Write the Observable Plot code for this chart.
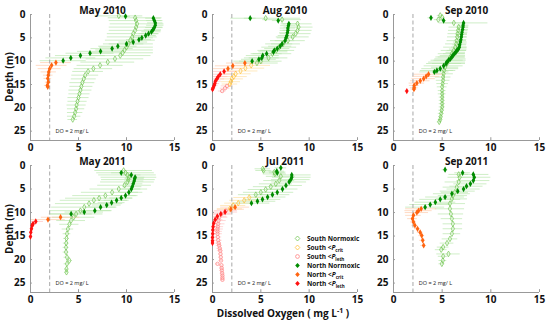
<!DOCTYPE html>
<html>
<head>
<meta charset="utf-8">
<script src="https://cdn.jsdelivr.net/npm/d3@7"></script>
<script src="https://cdn.jsdelivr.net/npm/@observablehq/plot@0.6"></script>
<style>
  body { margin: 0; background: white; }
  #wrap { position: relative; width: 550px; height: 322px; background: white; overflow: hidden; font-family: "Open Sans", sans-serif; }
  .abs { position: absolute; }
  .ylab { font-weight: bold; font-size: 10px; color: #111; transform: translate(-50%, -50%) rotate(-90deg); white-space: nowrap; }
  .xlab { font-weight: bold; font-size: 10px; color: #111; transform: translate(-50%, -50%); white-space: nowrap; }
  .legend { font-size: 6.5px; font-weight: bold; color: #111; }
  .legend .row { position: absolute; left: 0; height: 9px; line-height: 9px; white-space: nowrap; }
  .legend svg { position: absolute; left: 0; top: 1px; }
  .legend span { position: absolute; left: 13px; top: 0; }
  .legend sub { font-size: 4.5px; line-height: 0; vertical-align: -1.5px; }
</style>
</head>
<body>
<div id="wrap"></div>
<script>
// ---- ticks, labels ----
const xTicks = [0, 5, 10, 15];
const yTicks = [0, 5, 10, 15, 20, 25];
const panelTitles = ["May 2010", "Aug 2010", "Sep 2010", "May 2011", "Jul 2011", "Sep 2011"];
const seriesKeys = ["SN", "SC", "SL", "NN", "NC", "NL"];
const seriesLabels = ["South Normoxic", "South <P_crit", "South <P_leth", "North Normoxic", "North <P_crit", "North <P_leth"];
const doThreshold = 2;
const doLabel = "DO = 2 mg/ L";

// ---- data: [depth (m), DO (mg/L), sd] ----
// May 2010
const may2010_SN = [[0.3,9.2,2.5],[0.7,10.9,2.8],[1.3,11.0,2.8],[2.0,11.1,2.8],[2.7,11.0,2.8],[3.4,10.9,2.7],[4.1,10.7,2.7],[4.8,10.6,2.6],[5.5,10.4,2.6],[6.3,10.2,2.6],[7.0,10.0,2.8],[7.6,9.8,3.0],[8.2,9.6,3.2],[8.8,9.35,3.2],[9.5,8.8,3.0],[10.2,8.05,2.8],[10.9,7.25,2.4],[11.6,6.55,2.0],[12.2,6.0,1.6],[13.0,5.7,1.4],[13.8,5.55,1.3],[14.6,5.4,1.3],[15.4,5.3,1.2],[16.2,5.2,1.2],[17.0,5.1,1.1],[17.8,5.0,1.1],[18.6,4.9,1.0],[19.4,4.8,1.0],[20.2,4.75,0.9],[21.0,4.65,0.8],[21.8,4.55,0.7],[22.5,4.4,0.5]];
const may2010_SC = [];
const may2010_SL = [];
const may2010_NN = [[0.4,9.9,0.5],[0.8,12.8,0.8],[1.3,12.9,0.8],[1.8,13.0,0.8],[2.3,13.0,0.9],[2.8,12.9,0.9],[3.3,12.75,0.9],[3.7,12.6,1.0],[4.1,12.3,1.0],[4.5,12.0,1.1],[5.0,11.6,1.2],[5.4,11.3,1.3],[5.9,10.7,1.5],[6.3,10.0,1.8],[6.8,9.1,2.0],[7.3,8.5,2.2],[7.9,7.3,2.4],[8.3,6.2,2.5],[8.8,5.2,2.6],[9.3,4.2,2.6],[9.9,3.4,2.4]];
const may2010_NC = [[10.3,2.65,1.6],[10.9,2.2,1.6],[11.6,2.0,1.2],[12.3,1.9,0.8],[13.0,1.85,0.5],[13.7,1.8,0.4],[14.5,1.85,0.3],[15.2,1.75,0.3],[15.5,1.8,0.2]];
const may2010_NL = [];
// Aug 2010
const aug2010_SN = [[0.8,5.5,3.6],[1.1,7.2,2.0],[2.0,8.8,1.5],[2.7,8.9,1.5],[3.4,8.8,1.5],[4.1,8.6,1.6],[4.8,8.3,1.7],[5.6,7.8,1.8],[6.3,7.3,1.8],[7.0,6.9,1.8],[7.7,6.6,1.9],[8.4,6.2,2.0],[9.3,5.8,2.0],[10.0,5.0,2.2],[10.4,4.6,2.2]];
const aug2010_SC = [[10.9,4.0,2.0],[11.5,3.4,2.0],[12.1,2.9,1.8],[12.7,2.4,1.6],[13.3,2.2,1.4],[13.8,2.0,1.2],[14.4,1.9,1.0],[14.9,1.8,0.8]];
const aug2010_SL = [[15.3,1.5,0.6],[15.8,1.3,0.5],[16.4,1.0,0.4]];
const aug2010_NN = [[0.8,3.9,0.6],[1.3,6.8,0.6],[2.0,7.9,0.8],[2.4,7.85,0.8],[2.9,7.8,0.8],[3.4,7.8,0.8],[3.9,7.75,0.8],[4.5,7.7,0.9],[5.0,7.6,0.9],[5.6,7.5,1.0],[6.3,7.2,1.1],[6.8,7.0,1.2],[7.3,6.7,1.3],[7.7,6.4,1.4],[8.0,6.3,1.5],[8.4,5.6,1.6],[8.8,5.2,1.7],[9.3,5.1,1.8],[9.6,4.8,1.8],[10.0,4.1,1.9]];
const aug2010_NC = [[10.4,3.35,1.9],[11.0,2.1,1.8],[11.6,1.6,1.6]];
const aug2010_NL = [[12.2,1.2,1.4],[12.8,0.8,1.2],[13.3,0.6,1.0],[13.8,0.45,0.8],[14.3,0.3,0.6],[14.8,0.24,0.5],[15.2,0.17,0.4],[15.7,0.07,0.3],[16.0,0.0,0.2]];
// Sep 2010
const sep2010_SN = [[0.2,4.8,0.3],[0.6,5.0,0.3],[1.1,4.6,0.4],[1.8,6.2,1.0],[2.7,6.7,1.0],[3.4,6.65,1.0],[4.1,6.6,1.0],[4.8,6.55,1.0],[5.6,6.5,1.0],[6.3,6.45,1.1],[7.0,6.35,1.2],[7.7,6.2,1.3],[8.4,6.0,1.4],[9.1,5.85,1.5],[9.8,5.66,1.5],[10.5,5.5,1.5],[11.3,5.3,1.4],[12.0,5.2,1.2],[12.7,5.15,1.0],[13.4,5.1,0.8],[14.1,5.1,0.7],[14.8,5.05,0.6],[15.5,5.0,0.5],[16.3,5.0,0.4],[17.0,5.0,0.4],[17.7,5.0,0.3],[18.4,5.0,0.3],[19.1,5.0,0.3],[19.8,5.0,0.3],[20.5,4.95,0.3],[21.2,4.9,0.3],[21.9,4.85,0.2],[22.5,4.8,0.2],[23.0,4.7,0.2]];
const sep2010_SC = [];
const sep2010_SL = [];
const sep2010_NN = [[0.7,3.85,0.3],[1.3,5.15,0.3],[1.8,7.2,2.5],[2.3,7.15,0.6],[2.7,7.14,0.6],[3.2,7.1,0.6],[3.8,7.04,0.6],[4.3,7.0,0.6],[4.8,6.97,0.6],[5.4,6.92,0.6],[5.9,6.87,0.7],[6.5,6.8,0.7],[7.0,6.76,0.8],[7.4,6.65,0.9],[7.7,6.52,1.0],[8.1,6.4,1.0],[8.4,6.25,1.1],[8.8,6.1,1.3],[9.1,6.0,1.4],[9.5,5.85,1.6],[9.8,5.66,1.8],[10.2,5.5,1.9],[10.5,5.4,2.0],[11.0,5.15,2.0],[11.6,4.8,1.9],[12.0,4.46,1.7],[12.3,4.2,1.5]];
const sep2010_NC = [[12.8,3.6,1.5],[13.25,3.36,1.4],[13.75,3.1,1.2],[14.2,2.75,1.0],[14.7,2.4,0.8],[15.2,2.13,0.5],[15.7,2.13,0.4],[16.0,2.1,0.3]];
const sep2010_NL = [[16.4,1.37,0.2]];
// May 2011
const may2011_SN = [[1.06,9.7,3.0],[1.55,9.9,3.0],[2.0,10.1,3.0],[2.5,10.25,2.9],[3.0,10.2,2.8],[3.5,10.1,2.8],[4.2,9.8,2.8],[5.0,9.2,3.0],[5.7,8.5,3.2],[6.4,7.8,3.4],[6.95,7.15,3.5],[7.4,6.6,3.5],[8.1,6.1,3.5],[8.85,5.6,3.4],[9.6,5.2,3.2],[10.3,4.75,2.8],[11.0,4.5,2.2],[11.7,4.23,1.5],[12.5,4.05,1.0],[13.5,3.9,0.6],[14.5,3.8,0.4],[15.5,3.75,0.3],[16.5,3.72,0.3],[17.4,3.7,0.3],[18.4,3.7,0.3],[19.5,3.8,0.3],[20.2,4.05,0.3],[20.9,3.8,0.3],[22.0,3.75,0.2],[22.7,3.75,0.2]];
const may2011_SC = [];
const may2011_SL = [];
const may2011_NN = [[1.55,9.45,1.0],[2.0,10.5,1.0],[2.5,10.9,1.0],[2.8,10.85,1.0],[3.3,10.8,1.0],[3.9,10.7,1.0],[4.5,10.6,1.0],[5.0,10.5,1.0],[5.7,10.25,1.0],[6.4,9.9,1.1],[6.9,9.45,1.2],[7.4,8.97,1.3],[7.9,8.45,1.4],[8.4,7.94,1.5],[8.85,7.3,1.6],[9.6,6.7,1.8],[9.9,5.6,2.0],[10.3,4.23,2.2]];
const may2011_NC = [[11.0,3.13,2.0],[11.5,1.82,1.8]];
const may2011_NL = [[11.9,0.55,0.8],[12.4,0.27,0.4],[12.75,0.17,0.3],[13.45,0.1,0.2],[14.2,0.03,0.1],[15.1,0.0,0.1]];
// Jul 2011
const jul2011_SN = [[0.7,5.2,0.8],[1.06,5.28,0.8],[1.4,6.4,1.2],[1.8,6.45,1.2],[2.3,7.07,1.5],[3.2,6.9,1.6],[3.9,6.55,1.7],[4.5,6.03,1.8],[5.1,5.5,1.8],[5.7,5.0,1.8],[6.2,4.48,1.8]];
const jul2011_SC = [[6.8,3.8,1.6],[7.4,3.28,1.5],[8.0,2.66,1.4],[8.5,2.14,1.3],[9.2,1.8,1.3]];
const jul2011_SL = [[9.6,1.38,1.2],[10.3,0.93,1.1],[11.0,0.69,0.9],[11.7,0.62,0.8],[12.4,0.59,0.7],[13.0,0.55,0.6],[13.5,0.52,0.6],[14.0,0.52,0.5],[14.5,0.52,0.5],[15.2,0.55,0.4],[15.9,0.59,0.4],[16.5,0.64,0.3],[17.0,0.69,0.3],[17.6,0.75,0.3],[18.1,0.8,0.3],[18.8,0.83,0.2],[19.5,0.86,0.2],[20.2,0.88,0.2],[20.9,0.52,0.2],[21.2,0.93,0.2],[21.8,0.95,0.2],[22.3,0.97,0.2],[22.9,1.0,0.2],[23.4,1.03,0.2],[23.9,1.03,0.2],[24.3,1.03,0.2]];
const jul2011_NN = [[0.5,7.07,0.6],[1.2,6.65,0.8],[1.55,6.7,0.8],[2.0,8.2,2.0],[2.5,8.2,2.0],[3.0,8.1,2.0],[3.5,7.93,1.8],[4.25,7.6,1.7],[5.0,7.24,1.6],[5.7,6.7,1.7],[6.2,6.2,1.8],[6.7,5.7,1.9],[7.2,5.17,1.9],[7.6,4.65,1.9],[8.0,4.03,1.9]];
const jul2011_NC = [[8.85,2.34,1.5],[9.3,1.9,1.4]];
const jul2011_NL = [[9.9,1.3,1.3],[10.3,0.86,1.1],[10.8,0.5,1.0],[11.5,0.28,0.8],[12.3,0.12,0.6],[13.0,0.06,0.5],[13.7,0.03,0.4],[14.5,0.02,0.3],[15.3,0.0,0.2],[16.0,0.0,0.1],[16.5,0.0,0.1]];
// Sep 2011
const sep2011_SN = [[1.9,6.7,1.0],[2.5,6.8,1.2],[3.5,6.7,1.4],[4.6,6.5,1.4],[5.7,6.3,1.4],[6.4,6.1,1.5],[7.1,6.0,1.6],[8.1,5.8,1.6],[9.2,5.8,1.5],[10.3,5.9,1.3],[11.3,6.0,1.1],[12.4,6.1,1.0],[13.45,6.1,1.0],[14.5,6.0,0.9],[15.6,5.8,0.8],[16.5,5.5,0.7],[17.35,5.1,0.6],[17.9,4.9,0.6],[18.8,5.65,1.2],[19.3,5.1,0.5],[20.2,5.07,0.4],[20.9,4.97,0.3]];
const sep2011_SC = [];
const sep2011_SL = [];
const sep2011_NN = [[0.9,5.3,0.3],[1.55,7.1,0.8],[1.9,8.2,1.6],[2.5,8.3,1.7],[3.2,8.2,1.7],[3.9,7.9,1.7],[4.4,7.5,1.7],[5.0,7.2,1.7],[5.45,6.6,1.8],[6.0,6.0,1.9],[6.7,5.3,2.0],[7.2,4.8,2.1],[7.8,4.3,2.1],[8.3,3.77,2.1],[8.85,3.25,2.0]];
const sep2011_NC = [[9.2,2.84,1.6],[9.6,2.57,1.4],[10.0,2.4,1.2],[10.6,2.05,0.8],[11.3,1.95,0.5],[12.0,2.05,0.3],[12.75,2.2,0.3],[13.45,2.47,0.3],[14.2,2.74,0.3],[14.9,2.9,0.3],[15.9,3.0,0.3],[17.0,3.1,0.3]];
const sep2011_NL = [];

const panelData = [
  {SN: may2010_SN, SC: may2010_SC, SL: may2010_SL, NN: may2010_NN, NC: may2010_NC, NL: may2010_NL},
  {SN: aug2010_SN, SC: aug2010_SC, SL: aug2010_SL, NN: aug2010_NN, NC: aug2010_NC, NL: aug2010_NL},
  {SN: sep2010_SN, SC: sep2010_SC, SL: sep2010_SL, NN: sep2010_NN, NC: sep2010_NC, NL: sep2010_NL},
  {SN: may2011_SN, SC: may2011_SC, SL: may2011_SL, NN: may2011_NN, NC: may2011_NC, NL: may2011_NL},
  {SN: jul2011_SN, SC: jul2011_SC, SL: jul2011_SL, NN: jul2011_NN, NC: jul2011_NC, NL: jul2011_NL},
  {SN: sep2011_SN, SC: sep2011_SC, SL: sep2011_SL, NN: sep2011_NN, NC: sep2011_NC, NL: sep2011_NL}
];

// ---- styling ----
const seriesStyle = {
  SN: {color: "#78c85a", err: "#b8e5ab", filled: false, symbol: "diamond"},
  SC: {color: "#ffc23d", err: "#ffdea0", filled: false, symbol: "diamond"},
  SL: {color: "#ff8585", err: "#ffc2c2", filled: false, symbol: "circle"},
  NN: {color: "#008c00", err: "#b8e5ab", filled: true, symbol: "diamond"},
  NC: {color: "#ff6410", err: "#ffcaa8", filled: true, symbol: "diamond"},
  NL: {color: "#ff1010", err: "#ffc2c2", filled: true, symbol: "diamond"}
};
const colX0 = [29.5, 212, 393];
const colSpan = [144, 145, 146];
const rowY0 = [14, 165];
const rowSpan = [126, 127];
const mL = 25, mR = 10, mT = 14, mB = 22;
const font = "'Open Sans', 'DejaVu Sans', sans-serif";

const wrap = document.getElementById("wrap");

panelData.forEach((pd, i) => {
  const col = i % 3, row = Math.floor(i / 3);
  const marks = [];
  for (const k of seriesKeys) {
    const s = seriesStyle[k];
    marks.push(Plot.ruleY(pd[k], {y: d => d[0], x1: d => d[1] - d[2], x2: d => d[1] + d[2], stroke: s.err, strokeWidth: 0.9, strokeOpacity: 0.75, clip: true}));
  }
  marks.push(Plot.ruleX([doThreshold], {stroke: "#a8a8a8", strokeDasharray: "4,2.5", strokeWidth: 1}));
  marks.push(Plot.text([doLabel], {x: doThreshold + 0.6, y: 25, text: d => d, textAnchor: "start", fontSize: 5.5, fontWeight: "normal", fill: "#222"}));
  marks.push(Plot.ruleX([0], {stroke: "#999", strokeWidth: 1}));
  marks.push(Plot.ruleY([27], {stroke: "#999", strokeWidth: 1}));
  marks.push(Plot.ruleX(xTicks, {x: d => d, y1: 27, y2: 26.4, stroke: "#999"}));
  marks.push(Plot.ruleY(yTicks, {y: d => d, x1: 0, x2: 0.2, stroke: "#999"}));
  for (const k of seriesKeys) {
    const s = seriesStyle[k];
    marks.push(Plot.dot(pd[k], {
      x: d => d[1], y: d => d[0], symbol: s.symbol,
      r: s.filled ? 1.9 : 1.7,
      fill: s.filled ? s.color : "none",
      stroke: s.filled ? "none" : s.color,
      strokeWidth: 0.75
    }));
  }
  marks.push(Plot.text([panelTitles[i]], {frameAnchor: "top", dy: -7.5, text: d => d, fontSize: 10, fontWeight: "bold", fill: "#111"}));

  const svg = Plot.plot({
    width: mL + colSpan[col] + mR,
    height: mT + rowSpan[row] + mB,
    marginLeft: mL, marginRight: mR, marginTop: mT, marginBottom: mB,
    x: {domain: [0, 15], ticks: xTicks, tickSize: 0, tickPadding: 3, label: null},
    y: {domain: [0, 27], reverse: true, ticks: yTicks, tickSize: 0, tickPadding: 5, label: null},
    style: {fontFamily: font, fontSize: "10px", fontWeight: "bold", background: "transparent", color: "#111", overflow: "visible"},
    marks
  });
  svg.classList.add("abs");
  svg.style.left = (colX0[col] - mL) + "px";
  svg.style.top = (rowY0[row] - mT) + "px";
  wrap.appendChild(svg);
});

[77, 229].forEach(cy => {
  const d = document.createElement("div");
  d.className = "abs ylab";
  d.style.left = "9px"; d.style.top = cy + "px";
  d.style.fontFamily = font;
  d.textContent = "Depth (m)";
  wrap.appendChild(d);
});
const xl = document.createElement("div");
xl.className = "abs xlab";
xl.style.left = "283px"; xl.style.top = "313px";
xl.style.fontFamily = font;
xl.innerHTML = "Dissolved Oxygen ( mg L<sup style='font-size:7px;line-height:0;vertical-align:4px'>-1</sup> )";
wrap.appendChild(xl);

const lg = document.createElement("div");
lg.className = "abs legend";
lg.style.left = "294px"; lg.style.top = "234px";
lg.style.fontFamily = font;
seriesKeys.forEach((k, j) => {
  const s = seriesStyle[k];
  const row = document.createElement("div");
  row.className = "row";
  row.style.top = (j * 9) + "px";
  const shape = s.symbol === "circle"
    ? `<circle cx="3.5" cy="3.5" r="1.9" fill="none" stroke="${s.color}" stroke-width="0.8"/>`
    : `<path d="M3.5,1L5.8,3.5L3.5,6L1.2,3.5Z" fill="${s.filled ? s.color : "none"}" stroke="${s.filled ? "none" : s.color}" stroke-width="0.8"/>`;
  const lab = seriesLabels[j];
  const parts = lab.split("_");
  const txt = parts.length > 1
    ? parts[0].replace("<", "&lt;").replace(/P$/, "<i>P</i>") + "<sub>" + parts[1] + "</sub>"
    : lab;
  row.innerHTML = `<svg width="7" height="7" style="overflow:visible">${shape}</svg><span>${txt}</span>`;
  lg.appendChild(row);
});
wrap.appendChild(lg);
</script>
</body>
</html>
